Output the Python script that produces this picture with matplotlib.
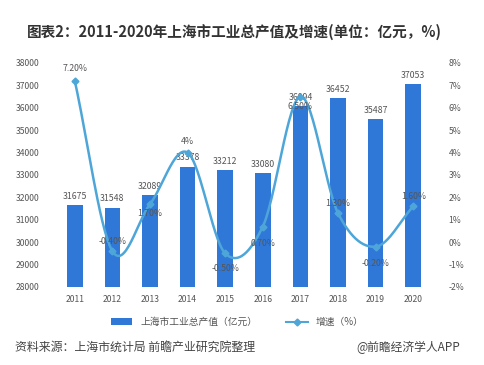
import numpy as np
import matplotlib
matplotlib.use("Agg")
import matplotlib.pyplot as plt
from matplotlib.lines import Line2D
from matplotlib.patches import Patch

plt.rcParams['font.family'] = ['Noto Sans CJK SC', 'DejaVu Sans']

years = ['2011', '2012', '2013', '2014', '2015', '2016', '2017', '2018', '2019', '2020']
output = [31675, 31548, 32089, 33378, 33212, 33080, 36094, 36452, 35487, 37053]
growth = [7.2, -0.4, 1.7, 4.0, -0.5, 0.7, 6.5, 1.3, -0.2, 1.6]
growth_labels = ['7.20%', '-0.40%', '1.70%', '4%', '-0.50%', '0.70%', '6.50%', '1.30%', '-0.20%', '1.60%']
# label offsets in points (dx, dy) relative to the marker
label_offsets = [(0, 9), (0, 7), (0, -7), (0, 8), (0, -11), (0, -12), (0, -7), (0, 7), (0, -12), (0, 7)]

bar_color = '#2F78D8'
line_color = '#4EA6D8'
text_color = '#555555'


def catmull_rom(x, y, n=30):
    x = np.asarray(x, float)
    y = np.asarray(y, float)
    px = np.concatenate([[2 * x[0] - x[1]], x, [2 * x[-1] - x[-2]]])
    py = np.concatenate([[2 * y[0] - y[1]], y, [2 * y[-1] - y[-2]]])
    xs, ys = [], []
    for i in range(1, len(px) - 2):
        t = np.linspace(0, 1, n, endpoint=False)
        for arr, out in ((px, xs), (py, ys)):
            p0, p1, p2, p3 = arr[i - 1], arr[i], arr[i + 1], arr[i + 2]
            out.extend(0.5 * ((2 * p1) + (-p0 + p2) * t + (2 * p0 - 5 * p1 + 4 * p2 - p3) * t ** 2
                              + (-p0 + 3 * p1 - 3 * p2 + p3) * t ** 3))
    xs.append(x[-1])
    ys.append(y[-1])
    return np.array(xs), np.array(ys)


fig = plt.figure(figsize=(4.84, 3.65), dpi=100)
ax = fig.add_axes([56 / 484, (365 - 287) / 365, (432 - 56) / 484, (287 - 63) / 365])
x = np.arange(len(years))
ax.bar(x, output, width=0.42, color=bar_color, zorder=2)
ax.set_ylim(28000, 38000)
ax.set_yticks(np.arange(28000, 38001, 1000))
ax.set_xlim(-0.5, len(years) - 0.5)
ax.set_xticks(x)
ax.set_xticklabels(years)
for s in ax.spines.values():
    s.set_visible(False)
ax.tick_params(axis='both', length=0, labelsize=6.2, colors=text_color)
ax.tick_params(axis='y', pad=12)
ax.tick_params(axis='x', pad=6)
for xi, v in zip(x, output):
    ax.annotate(str(v), (xi, v), xytext=(0, 3), textcoords='offset points',
                ha='center', va='bottom', fontsize=6.3, color=text_color, zorder=5)

ax2 = ax.twinx()
ax2.set_ylim(-2, 8)
ax2.set_yticks(np.arange(-2, 9, 1))
ax2.set_yticklabels([f'{v}%' for v in range(-2, 9)])
for s in ax2.spines.values():
    s.set_visible(False)
ax2.tick_params(axis='y', length=0, labelsize=6.2, colors=text_color, pad=12)
sx, sy = catmull_rom(x, growth)
ax2.plot(sx, sy, color=line_color, lw=1.8, zorder=3)
ax2.plot(x, growth, linestyle='none', marker='D', markersize=3.5, color=line_color, zorder=4)
for xi, v, lab, (dx, dy) in zip(x, growth, growth_labels, label_offsets):
    ax2.annotate(lab, (xi, v), xytext=(dx, dy), textcoords='offset points',
                 ha='center', va='center', fontsize=6.3, color=text_color, zorder=5)

fig.text(0.485, (365 - 32) / 365, '图表2：2011-2020年上海市工业总产值及增速(单位：亿元，%)',
         ha='center', va='center', fontsize=10.5, fontweight='bold', color='#333333')

handles = [Patch(facecolor=bar_color, edgecolor='none'),
           Line2D([0], [0], color=line_color, lw=1.5, marker='D', markersize=3.5)]
fig.legend(handles, ['上海市工业总产值（亿元）', '增速（%）'], loc='center',
           bbox_to_anchor=(0.49, (365 - 322) / 365), ncol=2, frameon=False,
           fontsize=7, labelcolor=text_color, handlelength=2.2, columnspacing=3,
           handleheight=0.6)

fig.text(15 / 484, (365 - 347) / 365, '资料来源：上海市统计局 前瞻产业研究院整理',
         ha='left', va='center', fontsize=8.6, color='#444444')
fig.text(460 / 484, (365 - 347) / 365, '@前瞻经济学人APP',
         ha='right', va='center', fontsize=8.5, color='#444444')

fig.savefig('out.png', dpi=100, facecolor='white')
